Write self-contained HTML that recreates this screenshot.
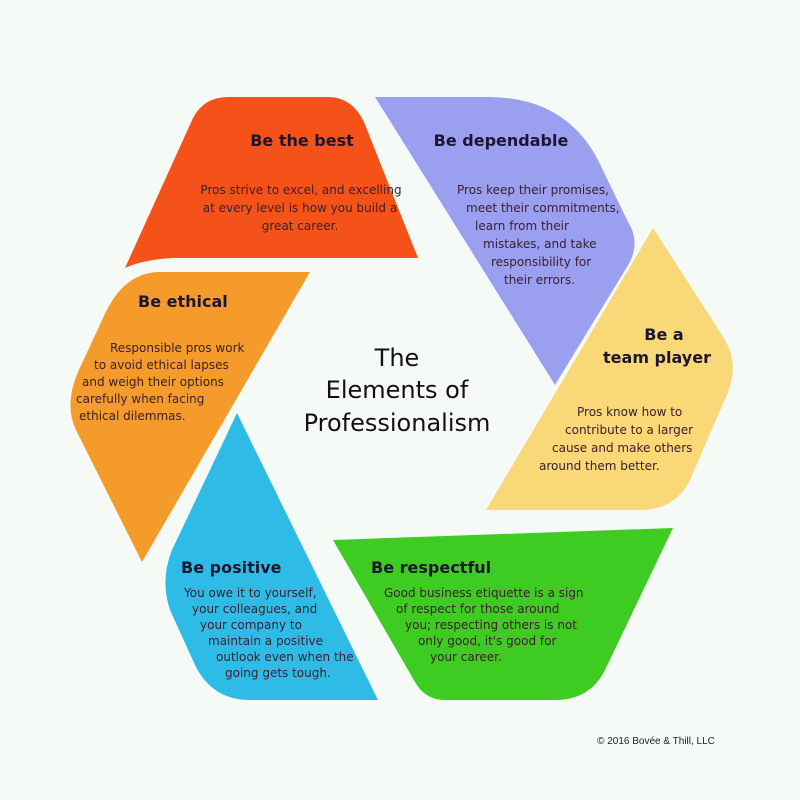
<!DOCTYPE html>
<html><head><style>
body{margin:0;background:#f6faf6;}
svg{display:block}
text{font-family:"DejaVu Sans","Liberation Sans",sans-serif;fill:#2a1a1a}
.h{font-weight:bold;font-size:16px;fill:#1e1630}
.b{font-size:12px;fill:#3a2030}
</style></head><body>
<svg width="800" height="800" viewBox="0 0 800 800">
<rect width="800" height="800" fill="#f6faf6"/>
<path d="M125,268 L193,118 Q204,97 228,97 L328,97 Q352,97 364,122 L418,258 L172,258 Q142,260 125,268 Z" fill="#f5521a"/>
<path d="M375,97 L488,97 Q565,97 598,160 L628,222 Q640,240 630,262 L555,385 Z" fill="#9a9ff0"/>
<path d="M653,228 L722,335 Q740,362 728,392 L690,480 Q675,510 640,510 L486,510 Z" fill="#f8d877"/>
<path d="M333,540 L673,528 L605,670 Q590,700 555,700 L445,700 Q425,700 415,682 Z" fill="#3ecb22"/>
<path d="M237,413 L378,700 L250,700 Q212,700 195,665 L170,610 Q160,580 172,550 Z" fill="#2ebce6"/>
<path d="M310,272 L142,562 L76,430 Q64,405 78,372 L103,318 Q123,272 160,272 Z" fill="#f59b2b"/>

<text class="h" x="302" y="146" text-anchor="middle">Be the best</text>
<text class="b" text-anchor="middle"><tspan x="301" y="194">Pros strive to excel, and excelling</tspan><tspan x="300" y="212">at every level is how you build a</tspan><tspan x="300" y="230">great career.</tspan></text>

<text class="h" x="501" y="146" text-anchor="middle">Be dependable</text>
<text class="b"><tspan x="457" y="194">Pros keep their promises,</tspan><tspan x="466" y="212">meet their commitments,</tspan><tspan x="475" y="230">learn from their</tspan><tspan x="483" y="248">mistakes, and take</tspan><tspan x="491" y="266">responsibility for</tspan><tspan x="504" y="284">their errors.</tspan></text>

<text class="h" x="664" y="340" text-anchor="middle">Be a</text>
<text class="h" x="657" y="363" text-anchor="middle">team player</text>
<text class="b"><tspan x="577" y="416">Pros know how to</tspan><tspan x="565" y="434">contribute to a larger</tspan><tspan x="552" y="452">cause and make others</tspan><tspan x="539" y="470">around them better.</tspan></text>

<text class="h" x="138" y="307">Be ethical</text>
<text class="b"><tspan x="110" y="352">Responsible pros work</tspan><tspan x="94" y="369">to avoid ethical lapses</tspan><tspan x="82" y="386">and weigh their options</tspan><tspan x="76" y="403">carefully when facing</tspan><tspan x="79" y="420">ethical dilemmas.</tspan></text>

<text class="h" x="181" y="573">Be positive</text>
<text class="b"><tspan x="184" y="597">You owe it to yourself,</tspan><tspan x="192" y="613">your colleagues, and</tspan><tspan x="200" y="629">your company to</tspan><tspan x="208" y="645">maintain a positive</tspan><tspan x="216" y="661">outlook even when the</tspan><tspan x="225" y="677">going gets tough.</tspan></text>

<text class="h" x="371" y="573">Be respectful</text>
<text class="b"><tspan x="384" y="597">Good business etiquette is a sign</tspan><tspan x="396" y="613">of respect for those around</tspan><tspan x="405" y="629">you; respecting others is not</tspan><tspan x="418" y="645">only good, it's good for</tspan><tspan x="430" y="661">your career.</tspan></text>

<g font-size="24" text-anchor="middle">
<text x="397" y="366" style="fill:#111">The</text>
<text x="397" y="398" style="fill:#111">Elements of</text>
<text x="397" y="431" style="fill:#111">Professionalism</text>
</g>
<text x="656" y="744" text-anchor="middle" style="font-size:10px;font-family:'Liberation Sans',sans-serif;fill:#222">© 2016 Bovée &amp; Thill, LLC</text>
</svg>
</body></html>
